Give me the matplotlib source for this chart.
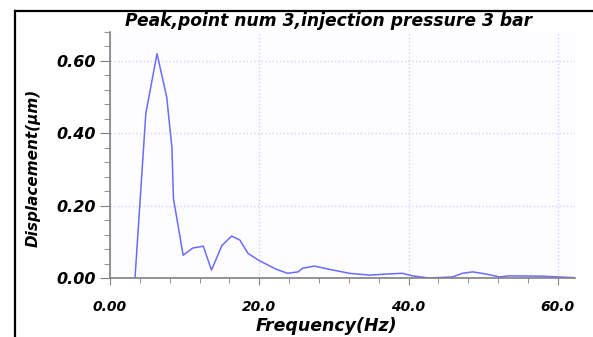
import matplotlib
matplotlib.use('Agg')
import matplotlib.pyplot as plt
from matplotlib.lines import Line2D
from matplotlib.ticker import MultipleLocator

# spectrum
freq = [3.35, 4.8, 6.3, 7.6, 8.3, 8.5, 9.8, 11.1, 12.5, 13.6, 15.0, 16.3, 17.4,
        18.5, 20.0, 22.3, 23.8, 25.2, 25.8, 27.4, 29.4, 32.1, 34.8, 37.0, 39.2,
        40.5, 42.8, 45.9, 47.2, 48.6, 50.4, 52.2, 53.5, 58.0, 62.2]
disp = [0.0, 0.455, 0.62, 0.50, 0.36, 0.22, 0.063, 0.083, 0.088, 0.022, 0.09,
        0.116, 0.105, 0.068, 0.048, 0.024, 0.013, 0.017, 0.027, 0.033, 0.024,
        0.013, 0.008, 0.011, 0.013, 0.006, 0.0, 0.003, 0.013, 0.017, 0.011,
        0.003, 0.006, 0.005, 0.001]

xticks = [0, 20, 40, 60]
xticklabels = ['0.00', '20.0', '40.0', '60.0']
yticks = [0.0, 0.2, 0.4, 0.6]
yticklabels = ['0.00', '0.20', '0.40', '0.60']
title = 'Peak,point num 3,injection pressure 3 bar'

plt.rcParams['font.family'] = ['DejaVu Sans']
bi = dict(fontweight='bold', fontstyle='italic')

fig = plt.figure(figsize=(5.93, 3.37), dpi=100)
ax = fig.add_axes([0.1855, 0.175, 0.784, 0.730])
ax.set_facecolor('#fdfdff')

ax.plot(freq, disp, color='#6b6bff', lw=1.1)

ax.set_xlim(0, 62.3)
ax.set_ylim(0, 0.68)
ax.set_xticks(xticks)
ax.set_xticklabels(xticklabels, fontsize=10, **bi)
ax.set_yticks(yticks)
ax.set_yticklabels(yticklabels, fontsize=11.5, **bi)
ax.xaxis.set_minor_locator(MultipleLocator(4))
ax.yaxis.set_minor_locator(MultipleLocator(0.04))

ax.grid(True, which='major', color='#d0d0ff', ls=':', lw=1)
for s in ['top', 'right']:
    ax.spines[s].set_visible(False)
for s in ['left', 'bottom']:
    ax.spines[s].set_color('#808080')
    ax.spines[s].set_linewidth(1.2)

ax.tick_params(axis='x', which='major', length=5, color='#808080', pad=11)
ax.tick_params(axis='x', which='minor', length=3.5, color='#808080')
ax.tick_params(axis='y', which='major', length=7, color='#808080', pad=3)
ax.tick_params(axis='y', which='minor', length=4, color='#808080')

fig.text(329 / 593, 1 - 21 / 337, title, fontsize=12.3, ha='center', va='center', **bi)
fig.text(326 / 593, 1 - 326 / 337, 'Frequency(Hz)', fontsize=12.5,
         ha='center', va='center', **bi)
fig.text(33 / 593, 1 - 168 / 337, 'Displacement(μm)', fontsize=11, rotation=90,
         ha='center', va='center', **bi)

# frame lines at top and left of the picture
fig.add_artist(Line2D([15 / 593, 1], [1 - 11 / 337] * 2, color='black', lw=1.6))
fig.add_artist(Line2D([15 / 593] * 2, [0, 1 - 11 / 337], color='black', lw=1.6))

plt.savefig('out.png', dpi=100)
plt.close()
